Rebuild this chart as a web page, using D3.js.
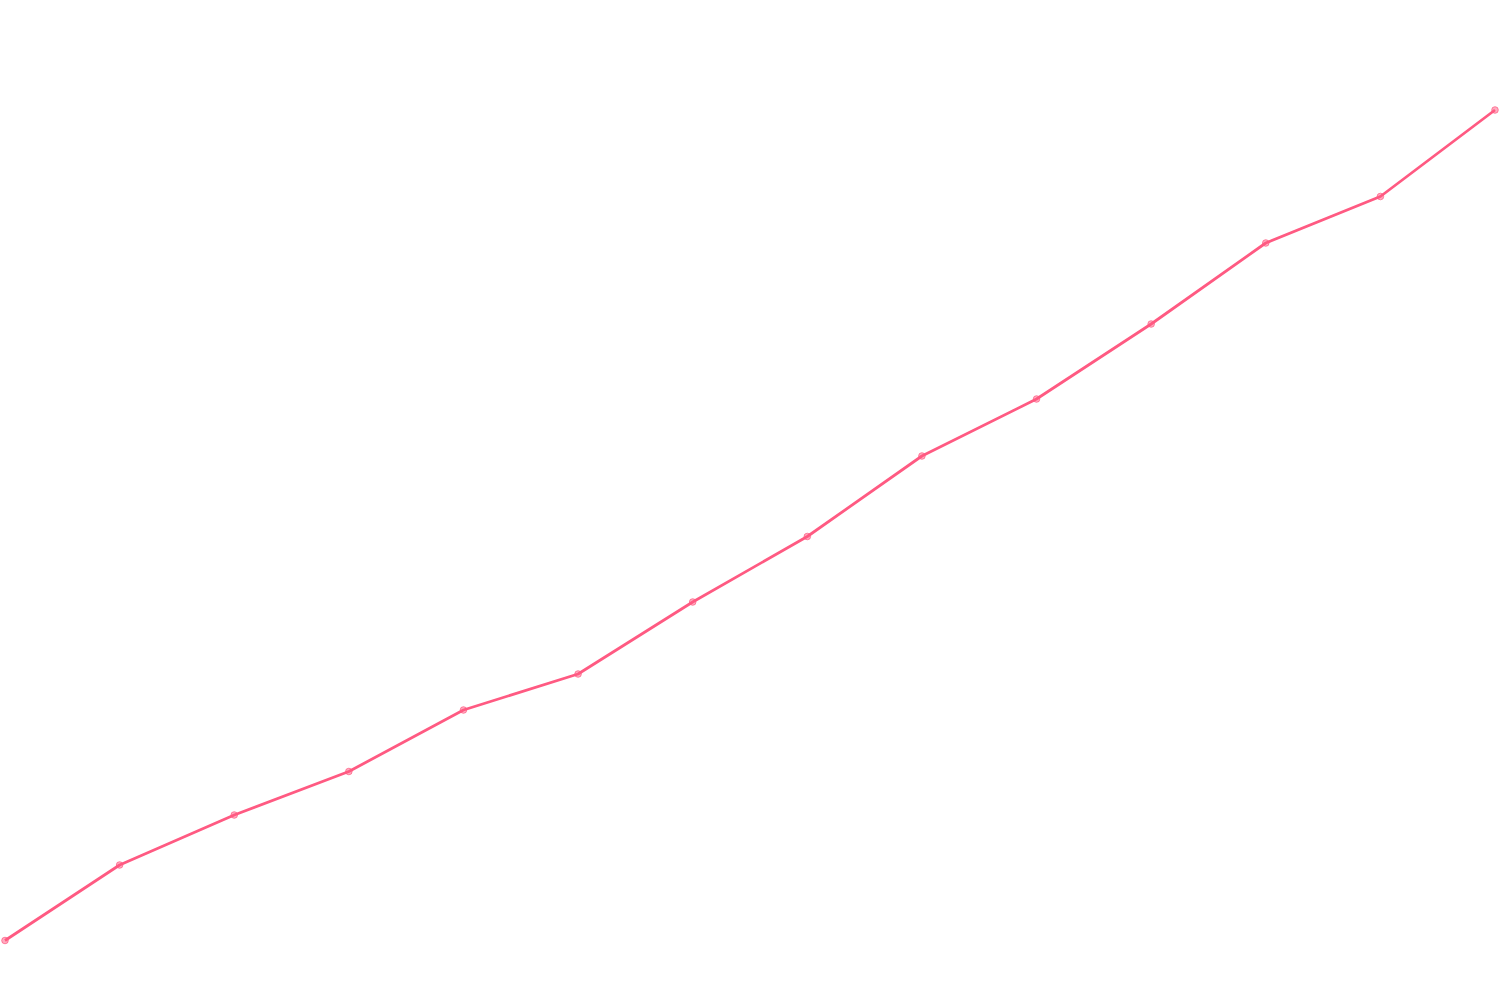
<!DOCTYPE html>
<html>
<head>
<meta charset="utf-8">
<script src="https://cdn.jsdelivr.net/npm/d3@7"></script>
<style>
  html, body { margin: 0; padding: 0; background: #fff; }
  svg { display: block; }
</style>
</head>
<body>
<svg id="chart" width="1500" height="1000"></svg>
<script>
// Data
const categories = [1, 2, 3, 4, 5, 6, 7, 8, 9, 10, 11, 12, 13, 14];
const values = [5.95, 13.5, 18.5, 22.85, 29.0, 32.6, 39.8, 46.35, 54.4, 60.1, 67.6, 75.7, 80.35, 89.0];

const width = 1500, height = 1000;
const svg = d3.select("#chart");

const x = d3.scalePoint().domain(categories).range([5, 1495]);
const y = d3.scaleLinear().domain([0, 100]).range([1000, 0]);

const data = categories.map((c, i) => ({ c, v: values[i] }));
const color = "#ff5a82";

const line = d3.line().x(d => x(d.c)).y(d => y(d.v));

svg.append("path")
  .datum(data)
  .attr("fill", "none")
  .attr("stroke", color)
  .attr("stroke-width", 2.8)
  .attr("stroke-linejoin", "round")
  .attr("d", line);

svg.selectAll("circle.pt")
  .data(data)
  .join("circle")
  .attr("class", "pt")
  .attr("cx", d => x(d.c))
  .attr("cy", d => y(d.v))
  .attr("r", 3.3)
  .attr("fill", color)
  .attr("fill-opacity", 0.5)
  .attr("stroke", color)
  .attr("stroke-opacity", 0.7)
  .attr("stroke-width", 1);
</script>
</body>
</html>
